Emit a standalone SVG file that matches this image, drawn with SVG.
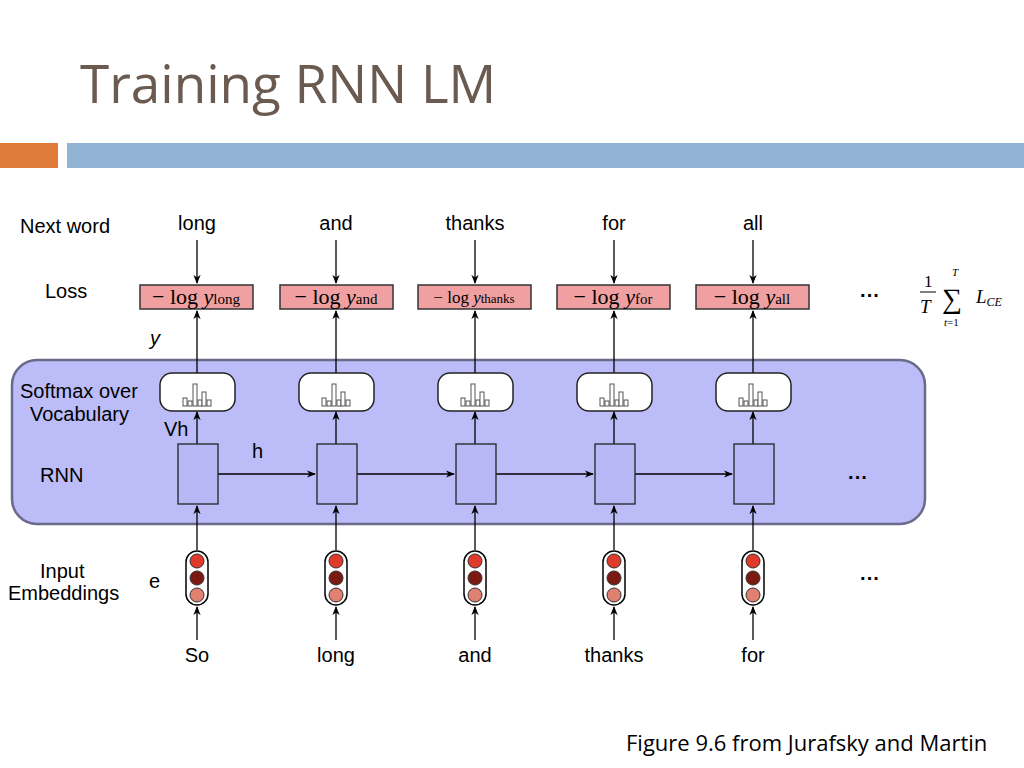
<svg xmlns="http://www.w3.org/2000/svg" width="1024" height="768" viewBox="0 0 1024 768">
<style>
.t{font-family:"Liberation Sans",Arial,sans-serif;font-size:20px;fill:#000}
.m{font-family:"Liberation Serif","Times New Roman",serif;fill:#000}
.ln line{stroke:#000;stroke-width:1.3;marker-end:url(#a)}
.loss{fill:#f0a0a0;stroke:#333;stroke-width:1.5}
.sm{fill:#fff;stroke:#222;stroke-width:1.5}
.rnn{fill:#b8b8f6;stroke:#222;stroke-width:1.3}
</style>
<defs>
<marker id="a" viewBox="0 0 10 10" refX="9" refY="5" markerWidth="7" markerHeight="7" orient="auto"><path d="M0,1 L10,5 L0,9 L3,5 z" fill="#000"/></marker>
<g id="hist" fill="#fff" stroke="#555" stroke-width="1">
<rect x="-14" y="8" width="4" height="8"/><rect x="-9" y="11" width="4" height="5"/><rect x="-4" y="-6" width="4" height="22"/><rect x="1" y="10" width="4" height="6"/><rect x="5" y="2" width="4" height="14"/><rect x="10" y="10" width="4" height="6"/>
</g>
<g id="emb"><rect x="-11" y="-27" width="22" height="54" rx="11" fill="#fff" stroke="#000" stroke-width="1.5"/>
<circle cx="0" cy="-17" r="7" fill="#e03a2a" stroke="#333"/><circle cx="0" cy="0" r="7" fill="#7a1a12" stroke="#333"/><circle cx="0" cy="17" r="7" fill="#e08070" stroke="#333"/></g>
</defs>
<rect width="1024" height="768" fill="#fff"/>
<text x="80" y="103" font-family="Open Sans,Liberation Sans,sans-serif" font-size="53" fill="#6b5a50">Training RNN LM</text>
<rect x="0" y="143" width="58" height="25" fill="#e07b3c"/>
<rect x="67" y="143" width="957" height="25" fill="#92b4d4"/>
<rect id="panel" x="12" y="360" width="913" height="164" rx="25" fill="#bcbcf8" stroke="#6a6a8a" stroke-width="2.5"/>
<g id="labels">
<text class="t" x="20" y="233" font-size="18">Next word</text>
<text class="t" x="45" y="298" font-size="18">Loss</text>
<text class="t" x="150" y="345" font-style="italic">y</text>
<text class="t" x="20" y="398" font-size="18">Softmax over</text>
<text class="t" x="30" y="421" font-size="18">Vocabulary</text>
<text class="t" x="164" y="436">Vh</text>
<text class="t" x="252" y="458">h</text>
<text class="t" x="40" y="482" font-size="25">RNN</text>
<text class="t" x="40" y="578" font-size="18">Input</text>
<text class="t" x="8" y="600" font-size="18">Embeddings</text>
<text class="t" x="149" y="588">e</text>
<text class="t" x="860" y="302" font-size="28" font-weight="bold">···</text>
<text class="t" x="848" y="484" font-size="28" font-weight="bold">···</text>
<text class="t" x="860" y="585" font-size="28" font-weight="bold">···</text>
<text class="m" x="924" y="287" font-size="17">1</text>
<line x1="920" y1="292" x2="936" y2="292" stroke="#000"/>
<text class="m" x="920" y="313" font-size="19" font-style="italic">T</text>
<text class="m" x="952" y="276" font-size="11" font-style="italic">T</text>
<text class="m" x="942" y="308" font-size="28">∑</text>
<text class="m" x="944" y="326" font-size="11"><tspan font-style="italic">t</tspan>=1</text>
<text class="m" x="976" y="303" font-size="19" font-style="italic">L<tspan font-size="12" dy="3">CE</tspan></text>
<text x="626" y="751" font-family="Open Sans,Liberation Sans,sans-serif" font-size="22" fill="#000">Figure 9.6 from Jurafsky and Martin</text>
</g>
<g id="connectors" class="ln">
<line x1="197" y1="240" x2="197" y2="283"/><line x1="336" y1="240" x2="336" y2="283"/><line x1="475" y1="240" x2="475" y2="283"/><line x1="614" y1="240" x2="614" y2="283"/><line x1="753" y1="240" x2="753" y2="283"/>
<line x1="197" y1="373" x2="197" y2="311"/><line x1="336" y1="373" x2="336" y2="311"/><line x1="475" y1="373" x2="475" y2="311"/><line x1="614" y1="373" x2="614" y2="311"/><line x1="753" y1="373" x2="753" y2="311"/>
<line x1="197" y1="444" x2="197" y2="412"/><line x1="336" y1="444" x2="336" y2="412"/><line x1="475" y1="444" x2="475" y2="412"/><line x1="614" y1="444" x2="614" y2="412"/><line x1="753" y1="444" x2="753" y2="412"/>
<line x1="218" y1="474" x2="315" y2="474"/><line x1="357" y1="474" x2="454" y2="474"/><line x1="496" y1="474" x2="593" y2="474"/><line x1="635" y1="474" x2="732" y2="474"/>
<line x1="197" y1="550" x2="197" y2="506"/><line x1="336" y1="550" x2="336" y2="506"/><line x1="475" y1="550" x2="475" y2="506"/><line x1="614" y1="550" x2="614" y2="506"/><line x1="753" y1="550" x2="753" y2="506"/>
<line x1="197" y1="640" x2="197" y2="607"/><line x1="336" y1="640" x2="336" y2="607"/><line x1="475" y1="640" x2="475" y2="607"/><line x1="614" y1="640" x2="614" y2="607"/><line x1="753" y1="640" x2="753" y2="607"/>
</g>
<g id="col1"><text class="t" x="197" y="230" text-anchor="middle">long</text>
<rect class="loss" x="140" y="285" width="113" height="24"/><text class="m" x="196" y="304" font-size="22" text-anchor="middle">− log <tspan font-style="italic">y</tspan><tspan font-size="15">long</tspan></text>
<rect class="sm" x="160" y="373" width="75" height="38" rx="12"/><use href="#hist" x="197" y="390"/>
<rect class="rnn" x="178" y="444" width="40" height="60"/><use href="#emb" x="197" y="578"/>
<text class="t" x="197" y="662" text-anchor="middle">So</text></g>
<g id="col2"><text class="t" x="336" y="230" text-anchor="middle">and</text>
<rect class="loss" x="280" y="285" width="113" height="24"/><text class="m" x="336" y="304" font-size="22" text-anchor="middle">− log <tspan font-style="italic">y</tspan><tspan font-size="15">and</tspan></text>
<rect class="sm" x="299" y="373" width="75" height="38" rx="12"/><use href="#hist" x="336" y="390"/>
<rect class="rnn" x="317" y="444" width="40" height="60"/><use href="#emb" x="336" y="578"/>
<text class="t" x="336" y="662" text-anchor="middle">long</text></g>
<g id="col3"><text class="t" x="475" y="230" text-anchor="middle">thanks</text>
<rect class="loss" x="418" y="285" width="113" height="24"/><text class="m" x="474" y="303" font-size="17" text-anchor="middle">− log <tspan font-style="italic">y</tspan><tspan font-size="13">thanks</tspan></text>
<rect class="sm" x="438" y="373" width="75" height="38" rx="12"/><use href="#hist" x="475" y="390"/>
<rect class="rnn" x="456" y="444" width="40" height="60"/><use href="#emb" x="475" y="578"/>
<text class="t" x="475" y="662" text-anchor="middle">and</text></g>
<g id="col4"><text class="t" x="614" y="230" text-anchor="middle">for</text>
<rect class="loss" x="557" y="285" width="113" height="24"/><text class="m" x="613" y="304" font-size="22" text-anchor="middle">− log <tspan font-style="italic">y</tspan><tspan font-size="15">for</tspan></text>
<rect class="sm" x="577" y="373" width="75" height="38" rx="12"/><use href="#hist" x="614" y="390"/>
<rect class="rnn" x="595" y="444" width="40" height="60"/><use href="#emb" x="614" y="578"/>
<text class="t" x="614" y="662" text-anchor="middle">thanks</text></g>
<g id="col5"><text class="t" x="753" y="230" text-anchor="middle">all</text>
<rect class="loss" x="696" y="285" width="113" height="24"/><text class="m" x="752" y="304" font-size="22" text-anchor="middle">− log <tspan font-style="italic">y</tspan><tspan font-size="15">all</tspan></text>
<rect class="sm" x="716" y="373" width="75" height="38" rx="12"/><use href="#hist" x="753" y="390"/>
<rect class="rnn" x="734" y="444" width="40" height="60"/><use href="#emb" x="753" y="578"/>
<text class="t" x="753" y="662" text-anchor="middle">for</text></g>
</svg>
